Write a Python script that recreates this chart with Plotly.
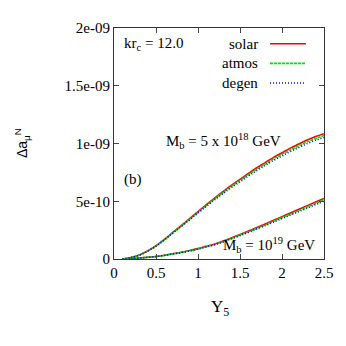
import plotly.graph_objects as go

# Y5 values
y5 = [0.1, 0.2, 0.3, 0.4, 0.5, 0.6, 0.7, 0.8, 0.9, 1.0, 1.1, 1.2, 1.3,
      1.4, 1.5, 1.6, 1.7, 1.8, 1.9, 2.0, 2.1, 2.2, 2.3, 2.4, 2.5]

# M_b = 5 x 10^18 GeV  (units of 1e-9)
solar_5e18 = [0, 0.012, 0.035, 0.07, 0.115, 0.17, 0.23, 0.29, 0.35, 0.41, 0.47, 0.53, 0.585,
              0.64, 0.69, 0.74, 0.79, 0.835, 0.88, 0.92, 0.96, 0.995, 1.03, 1.06, 1.085]
atmos_5e18 = [0, 0.012, 0.034, 0.069, 0.113, 0.167, 0.226, 0.285, 0.344, 0.404, 0.463, 0.522, 0.576,
              0.630, 0.680, 0.729, 0.778, 0.822, 0.867, 0.906, 0.945, 0.980, 1.014, 1.044, 1.069]
degen_5e18 = [0, 0.011, 0.033, 0.068, 0.111, 0.165, 0.223, 0.281, 0.339, 0.398, 0.456, 0.514, 0.567,
              0.621, 0.669, 0.718, 0.766, 0.81, 0.854, 0.892, 0.931, 0.965, 0.999, 1.028, 1.052]

# M_b = 10^19 GeV
solar_1e19 = [0, 0.003, 0.008, 0.015, 0.022, 0.032, 0.045, 0.058, 0.073, 0.09, 0.11, 0.13, 0.155,
              0.183, 0.212, 0.242, 0.272, 0.303, 0.335, 0.367, 0.398, 0.43, 0.462, 0.493, 0.524]
atmos_1e19 = [0, 0.003, 0.008, 0.015, 0.021, 0.031, 0.044, 0.057, 0.071, 0.088, 0.107, 0.127, 0.151,
              0.178, 0.207, 0.236, 0.265, 0.295, 0.327, 0.358, 0.388, 0.419, 0.45, 0.481, 0.511]
degen_1e19 = [0, 0.003, 0.008, 0.014, 0.021, 0.031, 0.043, 0.055, 0.07, 0.086, 0.105, 0.124, 0.148,
              0.175, 0.202, 0.231, 0.26, 0.289, 0.32, 0.35, 0.38, 0.411, 0.441, 0.471, 0.50]

x_ticks = [0, 0.5, 1, 1.5, 2, 2.5]
x_labels = ['0', '0.5', '1', '1.5', '2', '2.5']
y_ticks = [0, 5e-10, 1e-9, 1.5e-9, 2e-9]
y_labels = ['0', '5e-10', '1e-09', '1.5e-09', '2e-09']

styles = [('solar', '#ff0000', 'solid'), ('atmos', '#00e000', '3px,1px'), ('degen', '#0000ff', '1px,2px')]
serif = 'Liberation Serif, Times New Roman, serif'

fig = go.Figure()
for group in ([solar_5e18, atmos_5e18, degen_5e18], [solar_1e19, atmos_1e19, degen_1e19]):
    for vals, (name, col, dash) in zip(group, styles):
        fig.add_trace(go.Scatter(x=y5, y=[v * 1e-9 for v in vals], mode='lines',
                                 line=dict(color=col, width=1.6, dash=dash, shape='spline'),
                                 showlegend=False))

# legend: text on the left, sample line on the right
for i, (name, col, dash) in enumerate(styles):
    yy = 0.932 - i * 0.085
    fig.add_annotation(x=0.695, y=yy, xref='paper', yref='paper', text=name, showarrow=False,
                       xanchor='right', yanchor='middle', font=dict(family=serif, size=15, color='black'))
    fig.add_shape(type='line', xref='paper', yref='paper', x0=0.743, x1=0.914, y0=yy, y1=yy,
                  line=dict(color=col, width=1.6, dash=dash))

fig.add_annotation(x=0.04, y=0.93, xref='paper', yref='paper', text='kr<sub>c</sub> = 12.0',
                   showarrow=False, xanchor='left', yanchor='middle',
                   font=dict(family=serif, size=15, color='black'))
fig.add_annotation(x=0.52, y=0.51, xref='paper', yref='paper',
                   text='M<sub>b</sub> = 5 x 10<sup>18</sup> GeV', showarrow=False,
                   xanchor='center', yanchor='middle', font=dict(family=serif, size=15, color='black'))
fig.add_annotation(x=0.04, y=0.345, xref='paper', yref='paper', text='(b)', showarrow=False,
                   xanchor='left', yanchor='middle', font=dict(family=serif, size=15, color='black'))
fig.add_annotation(x=0.965, y=0.06, xref='paper', yref='paper',
                   text='M<sub>b</sub> = 10<sup>19</sup> GeV', showarrow=False,
                   xanchor='right', yanchor='middle', font=dict(family=serif, size=15, color='black'))

# axis titles
fig.add_annotation(x=-0.44, y=0.5, xref='paper', yref='paper', text='Δa<sub>μ</sub><sup>N</sup>',
                   textangle=-90, showarrow=False, xanchor='center', yanchor='middle',
                   font=dict(family='Liberation Sans', size=14, color='black'))
fig.add_annotation(x=0.505, y=-0.21, xref='paper', yref='paper', text='Y<sub>5</sub>',
                   showarrow=False, xanchor='center', yanchor='middle',
                   font=dict(family=serif, size=17, color='black'))

fig.update_xaxes(range=[0, 2.5], tickvals=x_ticks, ticktext=x_labels, ticks='inside', ticklen=5,
                 showline=True, linecolor='#333', linewidth=1, mirror='ticks', showgrid=False,
                 zeroline=False, tickfont=dict(family=serif, size=15, color='black'))
fig.update_yaxes(range=[0, 2e-9], tickvals=y_ticks, ticktext=y_labels, ticks='inside', ticklen=5,
                 showline=True, linecolor='#333', linewidth=1, mirror='ticks', showgrid=False,
                 zeroline=False, tickfont=dict(family=serif, size=15, color='black'))

# page body adds 8px; margins compensate
fig.update_layout(width=346, height=346, margin=dict(l=106, r=30, t=16, b=95),
                  plot_bgcolor='white', paper_bgcolor='white', showlegend=False)

fig.write_html("out.html")
